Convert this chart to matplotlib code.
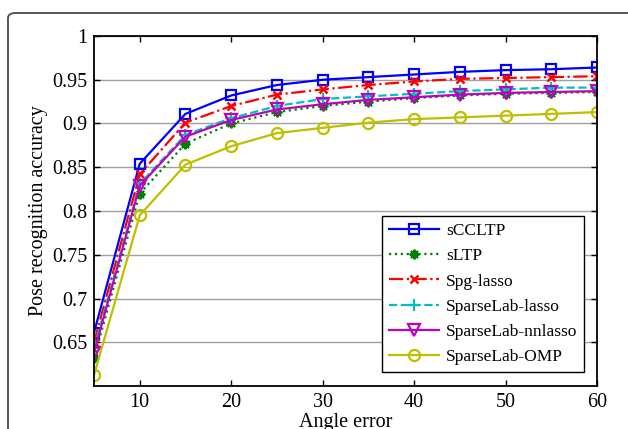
import numpy as np
import matplotlib
matplotlib.use("Agg")
import matplotlib.pyplot as plt
from matplotlib.patches import FancyBboxPatch
from matplotlib.ticker import FuncFormatter

plt.rcParams['font.family'] = ['Liberation Serif', 'DejaVu Serif']

# angle error (x) and accuracy per method
angle_err = [5, 10, 15, 20, 25, 30, 35, 40, 45, 50, 55, 60]
scc_ltp = [0.661, 0.854, 0.911, 0.932, 0.944, 0.950, 0.953, 0.956, 0.959, 0.961, 0.962, 0.964]
s_ltp = [0.632, 0.820, 0.877, 0.900, 0.913, 0.920, 0.925, 0.929, 0.932, 0.934, 0.935, 0.936]
spg_lasso = [0.650, 0.842, 0.901, 0.920, 0.933, 0.939, 0.944, 0.948, 0.951, 0.952, 0.953, 0.954]
sl_lasso = [0.643, 0.831, 0.887, 0.906, 0.920, 0.928, 0.931, 0.934, 0.937, 0.939, 0.941, 0.941]
sl_nnlasso = [0.638, 0.829, 0.885, 0.904, 0.916, 0.922, 0.927, 0.930, 0.933, 0.935, 0.936, 0.937]
sl_omp = [0.6125, 0.795, 0.853, 0.874, 0.889, 0.895, 0.901, 0.905, 0.907, 0.909, 0.911, 0.913]

labels = ['sCCLTP', 'sLTP', 'Spg-lasso', 'SparseLab-lasso', 'SparseLab-nnlasso', 'SparseLab-OMP']
x_ticks = [10, 20, 30, 40, 50, 60]
y_ticks = [0.65, 0.7, 0.75, 0.8, 0.85, 0.9, 0.95, 1.0]

fig = plt.figure(figsize=(6.28, 4.29), dpi=100)
ax = fig.add_axes([0.1497, 0.1002, 0.8009, 0.8159])

# rounded outer frame, right/bottom edges fall outside the canvas
frame = FancyBboxPatch((8 / 628, -0.2), 1.2, (1 - 13 / 429) + 0.2,
                       boxstyle="round,pad=0,rounding_size=0.012",
                       transform=fig.transFigure, fill=False,
                       edgecolor='#555555', linewidth=1.4, zorder=-1)
fig.patches.append(frame)

lw = 1.6
ms = 7
ax.plot(angle_err, scc_ltp, '-', color='#0000ff', marker='s', ms=ms, mfc='none', mew=1.6, lw=lw, label=labels[0])
ax.plot(angle_err, s_ltp, ':', color='#008000', marker=(8, 2, 0), ms=ms, mew=1.4, lw=lw, label=labels[1])
ax.plot(angle_err, spg_lasso, '-.', color='#ff0000', marker='x', ms=6, mew=1.8, lw=lw, label=labels[2])
ax.plot(angle_err, sl_lasso, '--', color='#00bfbf', marker='+', ms=9, mew=1.6, lw=lw, label=labels[3])
ax.plot(angle_err, sl_nnlasso, '-', color='#bf00bf', marker='v', ms=9, mfc='none', mew=1.6, lw=lw, label=labels[4])
ax.plot(angle_err, sl_omp, '-', color='#bfbf00', marker='o', ms=8, mfc='none', mew=1.6, lw=lw, label=labels[5])

ax.set_xlim(5, 60)
ax.set_ylim(0.6, 1.0)
ax.set_xticks(x_ticks)
ax.set_yticks(y_ticks)
ax.yaxis.set_major_formatter(FuncFormatter(lambda v, p: '%g' % v))
ax.yaxis.grid(True, color='#a0a0a0', linewidth=1.0)
ax.set_axisbelow(True)
ax.tick_params(direction='in', top=True, right=True, labelsize=14.5, length=4, width=1, pad=5)
for s in ax.spines.values():
    s.set_linewidth(1.3)

ax.set_xlabel('Angle error', fontsize=14.5, labelpad=1)
ax.set_ylabel('Pose recognition accuracy', fontsize=14.5, labelpad=3)

leg = ax.legend(loc='lower right', bbox_to_anchor=(0.975, 0.04), fontsize=12.5,
                fancybox=False, edgecolor='black', framealpha=1,
                handlelength=2.9, handletextpad=0.4, labelspacing=0.52,
                borderpad=0.4, borderaxespad=0)
leg.get_frame().set_linewidth(1.0)

fig.savefig('out.png', dpi=100)
